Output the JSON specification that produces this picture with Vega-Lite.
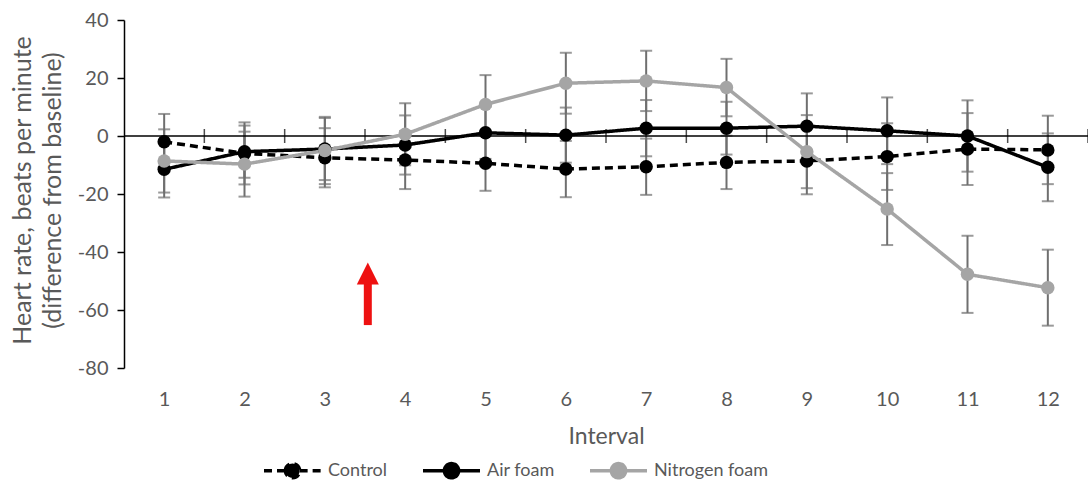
{
  "$schema": "https://vega.github.io/schema/vega-lite/v6.json",
  "width": 964,
  "height": 348,
  "autosize": "none",
  "padding": {"left": 124, "top": 20, "right": 0, "bottom": 116},
  "background": "white",
  "config": {
    "view": {"stroke": null},
    "font": "Lato",
    "axisY": {
      "tickCount": 6,
      "labelExpr": "'' + datum.value",
      "grid": false,
      "domainColor": "black",
      "domainWidth": 1.5,
      "tickColor": "black",
      "tickSize": 7,
      "tickWidth": 1.5,
      "labelFont": "Lato",
      "labelFontSize": 20,
      "labelColor": "#595959",
      "labelPadding": 9,
      "titleFont": "Lato",
      "titleFontSize": 25,
      "titleColor": "#595959",
      "titleFontWeight": "normal",
      "titleX": -102,
      "titleY": 170,
      "titleLineHeight": 30,
      "titleBaseline": "middle"
    }
  },
  "datasets": {
    "series": [
      {"s": "Control", "interval": 1, "mean": -2.0, "lo": -11.6, "hi": 7.6},
      {"s": "Control", "interval": 2, "mean": -6.0, "lo": -16.7, "hi": 4.7},
      {"s": "Control", "interval": 3, "mean": -7.5, "lo": -17.7, "hi": 2.7},
      {"s": "Control", "interval": 4, "mean": -8.3, "lo": -18.3, "hi": 1.7},
      {"s": "Control", "interval": 5, "mean": -9.4, "lo": -18.9, "hi": 0.1},
      {"s": "Control", "interval": 6, "mean": -11.4, "lo": -21.1, "hi": -1.7},
      {"s": "Control", "interval": 7, "mean": -10.6, "lo": -20.3, "hi": -0.9},
      {"s": "Control", "interval": 8, "mean": -9.1, "lo": -18.3, "hi": 0.1},
      {"s": "Control", "interval": 9, "mean": -8.6, "lo": -20.1, "hi": 2.9},
      {"s": "Control", "interval": 10, "mean": -7.1, "lo": -18.6, "hi": 4.4},
      {"s": "Control", "interval": 11, "mean": -4.5, "lo": -16.9, "hi": 7.9},
      {"s": "Control", "interval": 12, "mean": -4.8, "lo": -16.6, "hi": 7.0},
      {"s": "Air foam", "interval": 1, "mean": -11.5, "lo": -21.2, "hi": -1.8},
      {"s": "Air foam", "interval": 2, "mean": -5.4, "lo": -14.4, "hi": 3.6},
      {"s": "Air foam", "interval": 3, "mean": -4.5, "lo": -15.2, "hi": 6.2},
      {"s": "Air foam", "interval": 4, "mean": -3.1, "lo": -13.3, "hi": 7.1},
      {"s": "Air foam", "interval": 5, "mean": 1.1, "lo": -7.9, "hi": 10.1},
      {"s": "Air foam", "interval": 6, "mean": 0.3, "lo": -9.2, "hi": 9.8},
      {"s": "Air foam", "interval": 7, "mean": 2.7, "lo": -7.0, "hi": 12.4},
      {"s": "Air foam", "interval": 8, "mean": 2.7, "lo": -6.4, "hi": 11.8},
      {"s": "Air foam", "interval": 9, "mean": 3.4, "lo": -7.9, "hi": 14.7},
      {"s": "Air foam", "interval": 10, "mean": 1.8, "lo": -9.7, "hi": 13.3},
      {"s": "Air foam", "interval": 11, "mean": 0.0, "lo": -12.3, "hi": 12.3},
      {"s": "Air foam", "interval": 12, "mean": -10.8, "lo": -22.5, "hi": 0.9},
      {"s": "Nitrogen foam", "interval": 1, "mean": -8.6, "lo": -19.5, "hi": 2.3},
      {"s": "Nitrogen foam", "interval": 2, "mean": -9.7, "lo": -20.9, "hi": 1.5},
      {"s": "Nitrogen foam", "interval": 3, "mean": -5.0, "lo": -16.6, "hi": 6.6},
      {"s": "Nitrogen foam", "interval": 4, "mean": 0.6, "lo": -10.1, "hi": 11.3},
      {"s": "Nitrogen foam", "interval": 5, "mean": 10.9, "lo": 0.8, "hi": 21.0},
      {"s": "Nitrogen foam", "interval": 6, "mean": 18.2, "lo": 7.7, "hi": 28.7},
      {"s": "Nitrogen foam", "interval": 7, "mean": 19.0, "lo": 8.6, "hi": 29.4},
      {"s": "Nitrogen foam", "interval": 8, "mean": 16.7, "lo": 6.8, "hi": 26.6},
      {"s": "Nitrogen foam", "interval": 9, "mean": -5.4, "lo": -18.0, "hi": 7.2},
      {"s": "Nitrogen foam", "interval": 10, "mean": -25.2, "lo": -37.6, "hi": -12.8},
      {"s": "Nitrogen foam", "interval": 11, "mean": -47.7, "lo": -61.0, "hi": -34.4},
      {"s": "Nitrogen foam", "interval": 12, "mean": -52.3, "lo": -65.4, "hi": -39.2}
    ],
    "bounds": [
      {"interval": 1.5}, {"interval": 2.5}, {"interval": 3.5}, {"interval": 4.5},
      {"interval": 5.5}, {"interval": 6.5}, {"interval": 7.5}, {"interval": 8.5},
      {"interval": 9.5}, {"interval": 10.5}, {"interval": 11.5}, {"interval": 12.5}
    ],
    "arrow": [
      {"interval": 3.535, "y0": -65.2, "y1": -49, "tip": -47.4}
    ]
  },
  "encoding": {
    "x": {
      "field": "interval",
      "type": "quantitative",
      "scale": {"domain": [0.5, 12.5], "nice": false, "zero": false},
      "axis": {
        "values": [1, 2, 3, 4, 5, 6, 7, 8, 9, 10, 11, 12],
        "format": "d",
        "title": "Interval",
        "domain": false,
        "ticks": false,
        "tickSize": 0,
        "grid": false,
        "labelFont": "Lato",
        "labelFontSize": 20,
        "labelColor": "#595959",
        "labelPadding": 21,
        "titleFont": "Lato",
        "titleFontSize": 23,
        "titleColor": "#595959",
        "titleFontWeight": "normal",
        "titlePadding": 16
      }
    }
  },
  "layer": [
    {
      "data": {"name": "series"},
      "mark": {"type": "rule", "color": "#6f6f6f", "strokeWidth": 2},
      "encoding": {
        "y": {
          "field": "lo",
          "type": "quantitative",
          "scale": {"domain": [-80, 40], "nice": false, "zero": false},
          "title": ["Heart rate, beats per minute", "(difference from baseline)"]
        },
        "y2": {"field": "hi"}
      }
    },
    {
      "data": {"name": "series"},
      "mark": {"type": "tick", "orient": "horizontal", "color": "#6f6f6f", "size": 12, "thickness": 2},
      "encoding": {"y": {"field": "lo", "type": "quantitative", "title": ["Heart rate, beats per minute", "(difference from baseline)"]}}
    },
    {
      "data": {"name": "series"},
      "mark": {"type": "tick", "orient": "horizontal", "color": "#6f6f6f", "size": 12, "thickness": 2},
      "encoding": {"y": {"field": "hi", "type": "quantitative", "title": ["Heart rate, beats per minute", "(difference from baseline)"]}}
    },
    {
      "data": {"name": "bounds"},
      "mark": {"type": "tick", "orient": "vertical", "color": "black", "size": 14, "thickness": 1.5},
      "encoding": {"y": {"datum": 0, "type": "quantitative", "title": ["Heart rate, beats per minute", "(difference from baseline)"]}}
    },
    {
      "data": {"values": [{}]},
      "mark": {"type": "rule", "color": "black", "strokeWidth": 1.5},
      "encoding": {"x": null, "y": {"datum": 0, "type": "quantitative", "title": ["Heart rate, beats per minute", "(difference from baseline)"]}}
    },
    {
      "data": {"name": "series"},
      "mark": {"type": "line", "strokeWidth": 3.5},
      "encoding": {
        "y": {"field": "mean", "type": "quantitative", "title": ["Heart rate, beats per minute", "(difference from baseline)"]},
        "color": {
          "field": "s",
          "type": "nominal",
          "scale": {"domain": ["Control", "Air foam", "Nitrogen foam"], "range": ["#000000", "#000000", "#a5a5a5"]},
          "legend": {
            "title": null,
            "orient": "none",
            "legendX": 138,
            "legendY": 420,
            "direction": "horizontal",
            "symbolType": "M-1,0L-0.25,0M0.25,0L1,0M-0.25,0A0.25,0.25 0 1,1 0.25,0A0.25,0.25 0 1,1 -0.25,0Z",
            "symbolSize": 3249,
            "symbolStrokeWidth": 3.5,
            "labelFont": "Lato",
            "labelFontSize": 18,
            "labelColor": "#595959",
            "labelOffset": 5,
            "columnPadding": 28,
            "encode": {
              "symbols": {
                "update": {
                  "fill": {"scale": "color", "field": "value"},
                  "stroke": {"scale": "color", "field": "value"},
                  "strokeDash": {"scale": "strokeDash", "field": "value"},
                  "opacity": {"value": 1}
                }
              }
            }
          }
        },
        "strokeDash": {
          "field": "s",
          "type": "nominal",
          "scale": {"domain": ["Control", "Air foam", "Nitrogen foam"], "range": [[8, 5], [1, 0], [1, 0]]},
          "legend": null
        }
      }
    },
    {
      "data": {"name": "series"},
      "mark": {"type": "point", "filled": true, "size": 180, "opacity": 1, "shape": "circle"},
      "encoding": {
        "y": {"field": "mean", "type": "quantitative", "title": ["Heart rate, beats per minute", "(difference from baseline)"]},
        "color": {"field": "s", "type": "nominal"}
      }
    },
    {
      "data": {"name": "arrow"},
      "mark": {"type": "rule", "color": "#ee1111", "strokeWidth": 8},
      "encoding": {
        "y": {"field": "y0", "type": "quantitative", "title": ["Heart rate, beats per minute", "(difference from baseline)"]},
        "y2": {"field": "y1"}
      }
    },
    {
      "data": {"name": "arrow"},
      "mark": {"type": "point", "filled": true, "opacity": 1, "color": "#ee1111", "size": 484, "shape": "M-1,1L1,1L0,-1Z"},
      "encoding": {
        "y": {"field": "tip", "type": "quantitative", "title": ["Heart rate, beats per minute", "(difference from baseline)"]}
      }
    }
  ]
}
